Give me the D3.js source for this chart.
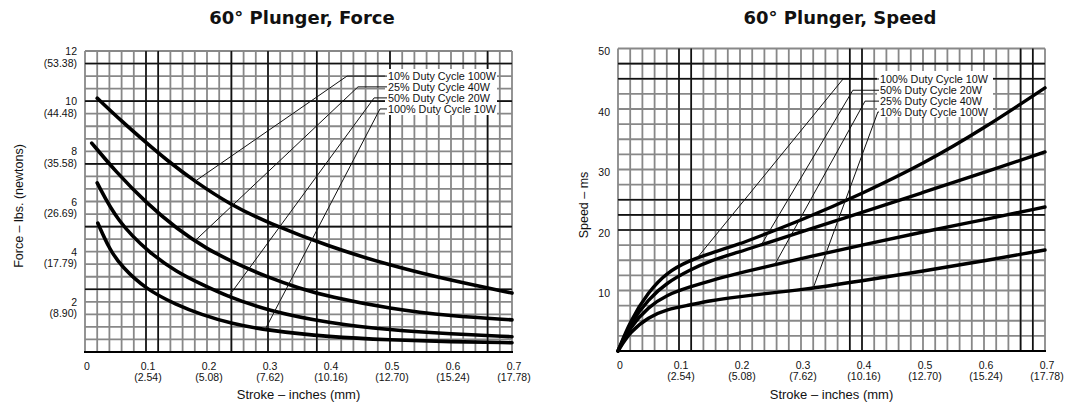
<!DOCTYPE html>
<html>
<head>
<meta charset="utf-8">
<script src="https://cdn.jsdelivr.net/npm/d3@7"></script>
<style>
  html, body { margin: 0; padding: 0; background: #fff; }
  svg { display: block; }
</style>
</head>
<body>
<svg id="chart" width="1071" height="406"></svg>
<script>
// ---- Axis ticks ----
const strokeTicks = [0, 0.1, 0.2, 0.3, 0.4, 0.5, 0.6, 0.7];
const strokeMm = ["", "(2.54)", "(5.08)", "(7.62)", "(10.16)", "(12.70)", "(15.24)", "(17.78)"];
const forceTicks = [2, 4, 6, 8, 10, 12];
const forceNewtons = ["(8.90)", "(17.79)", "(26.69)", "(35.58)", "(44.48)", "(53.38)"];
const speedTicks = [10, 20, 30, 40, 50];

// ---- Force vs stroke (lbs), [stroke in, force lbs] ----
const force100W = [[0.02,10.12],[0.06,9.2],[0.1,8.35],[0.134,7.65],[0.18,6.8],[0.24,5.85],[0.3,5.15],[0.4,4.2],[0.5,3.45],[0.6,2.85],[0.7,2.35]];
const force40W  = [[0.011,8.33],[0.05,7.2],[0.1,5.95],[0.151,4.9],[0.2,4.1],[0.25,3.5],[0.3,2.98],[0.35,2.55],[0.4,2.2],[0.5,1.72],[0.6,1.43],[0.7,1.28]];
const force20W  = [[0.02,6.74],[0.053,5.2],[0.107,3.92],[0.15,3.2],[0.189,2.72],[0.235,2.2],[0.3,1.65],[0.4,1.15],[0.5,0.88],[0.6,0.72],[0.7,0.61]];
const force10W  = [[0.021,5.14],[0.04,4.1],[0.06,3.4],[0.1,2.5],[0.15,1.88],[0.19,1.5],[0.24,1.13],[0.3,0.86],[0.4,0.6],[0.5,0.48],[0.6,0.41],[0.7,0.37]];

// ---- Speed vs stroke (ms), [stroke in, ms] ----
const speed10W  = [[0,0],[0.02,5],[0.05,9.8],[0.08,13],[0.118,15],[0.15,16.1],[0.2,17.7],[0.233,19],[0.3,21.6],[0.4,26],[0.5,30.9],[0.6,36.8],[0.7,43.5]];
const speed20W  = [[0,0],[0.02,4.6],[0.05,8.6],[0.08,11.3],[0.118,13.4],[0.15,14.9],[0.2,16.4],[0.233,17.5],[0.3,19.7],[0.4,22.9],[0.5,26.2],[0.6,29.5],[0.7,32.9]];
const speed40W  = [[0,0],[0.02,4],[0.05,7.3],[0.08,9.3],[0.118,10.6],[0.15,11.6],[0.2,12.9],[0.233,13.7],[0.3,15.3],[0.4,17.5],[0.5,19.7],[0.6,21.7],[0.7,23.8]];
const speed100W = [[0,0],[0.02,3.2],[0.05,5.6],[0.08,6.9],[0.118,7.6],[0.15,8.3],[0.2,9.0],[0.233,9.4],[0.3,10.1],[0.4,11.6],[0.5,13.2],[0.6,14.9],[0.7,16.7]];

// ---- Duty-cycle callouts: label, curve, stroke where the leader meets it, elbow [in, value] ----
const forceLabels = ["10% Duty Cycle 100W", "25% Duty Cycle 40W", "50% Duty Cycle 20W", "100% Duty Cycle 10W"];
const forceCurves = [force100W, force40W, force20W, force10W];
const forceHit = [0.18, 0.18, 0.235, 0.295];
const forceElbow = [[0.4295, 11.0], [0.4475, 10.57], [0.474, 10.13], [0.4836, 9.69]];

const speedLabels = ["100% Duty Cycle 10W", "50% Duty Cycle 20W", "25% Duty Cycle 40W", "10% Duty Cycle 100W"];
const speedCurves = [speed10W, speed20W, speed40W, speed100W];
const speedHit = [0.13, 0.235, 0.257, 0.32];
const speedElbow = [[0.369, 44.96], [0.385, 43.1], [0.405, 41.3], [0.426, 39.5]];

const svg = d3.select("#chart");
const tickFont = "'Liberation Sans', Arial, sans-serif";

function valueAt(series, xv) {
  for (let i = 1; i < series.length; i++) {
    const [x0, y0] = series[i - 1], [x1, y1] = series[i];
    if (xv <= x1) return y0 + (y1 - y0) * (xv - x0) / (x1 - x0);
  }
  return series[series.length - 1][1];
}

function panel(opt) {
  const { x, y, yMax, yStep, xMajor, yMajor, curves, curveWidth } = opt;
  const g = svg.append("g");
  const [x0, x1] = x.range();
  const [y0, y1] = y.range();

  // fine grey grid
  const gx = d3.range(0, 0.7 + 1e-9, 0.02);
  const gy = d3.range(0, yMax + 1e-9, yStep);
  g.append("g").selectAll("line").data(gx).join("line")
    .attr("x1", d => x(d)).attr("x2", d => x(d))
    .attr("y1", y0).attr("y2", y1)
    .attr("stroke", "#888").attr("stroke-width", 1.8);
  g.append("g").selectAll("line").data(gy).join("line")
    .attr("x1", x0).attr("x2", x1)
    .attr("y1", d => y(d)).attr("y2", d => y(d))
    .attr("stroke", "#888").attr("stroke-width", 1.8);

  // heavier rulings
  g.append("g").selectAll("line").data(xMajor).join("line")
    .attr("x1", d => x(d)).attr("x2", d => x(d))
    .attr("y1", y0).attr("y2", y1)
    .attr("stroke", "#111").attr("stroke-width", 1.6);
  g.append("g").selectAll("line").data(yMajor).join("line")
    .attr("x1", x0).attr("x2", x1)
    .attr("y1", d => y(d)).attr("y2", d => y(d))
    .attr("stroke", "#111").attr("stroke-width", 1.6);

  // base line
  g.append("line").attr("x1", x0 - 1).attr("x2", x1 + 1)
    .attr("y1", y0).attr("y2", y0)
    .attr("stroke", "#000").attr("stroke-width", 2);

  // curves
  const line = d3.line().x(d => x(d[0])).y(d => y(d[1])).curve(d3.curveBasis);
  g.append("g").selectAll("path").data(curves).join("path")
    .attr("d", line)
    .attr("fill", "none").attr("stroke", "#000")
    .attr("stroke-width", curveWidth).attr("stroke-linecap", "round");

  // x axis labels: inches with mm underneath
  const ax = g.append("g").attr("transform", `translate(0,${y0})`)
    .call(d3.axisBottom(x).tickValues(strokeTicks).tickSize(0).tickPadding(0).tickFormat(d => d));
  ax.select(".domain").remove();
  ax.selectAll(".tick text").each(function (d, i) {
    const t = d3.select(this).text(null)
      .attr("font-family", tickFont).attr("font-size", 10.5).attr("fill", "#111")
      .attr("dy", null).attr("y", 0);
    t.append("tspan").attr("x", 1.5).attr("y", 17.5).text(d === 0 ? "0" : d3.format(".1f")(d));
    if (strokeMm[i]) t.append("tspan").attr("x", 1.5).attr("y", 28.5).text(strokeMm[i]);
  });

  // axis title
  g.append("text").attr("x", (x0 + x1) / 2).attr("y", 399)
    .attr("text-anchor", "middle").attr("font-family", tickFont)
    .attr("font-size", 13).attr("fill", "#111").text("Stroke – inches (mm)");

  return g;
}

function callouts(g, x, y, labels, curves, hits, elbows, textX, box) {
  g.append("rect").attr("x", box[0]).attr("y", box[1]).attr("width", box[2]).attr("height", box[3])
    .attr("fill", "#fff");
  labels.forEach((lab, i) => {
    const hx = hits[i], hy = valueAt(curves[i], hx);
    const [ex, ey] = elbows[i];
    g.append("polyline")
      .attr("points", [[x(hx), y(hy)], [x(ex), y(ey)], [textX - 1, y(ey)]].map(p => p.join(",")).join(" "))
      .attr("fill", "none").attr("stroke", "#111").attr("stroke-width", 1);
    g.append("text").attr("x", textX).attr("y", y(ey) + 3.8)
      .attr("font-family", tickFont).attr("font-size", 10.8).attr("fill", "#111")
      .text(lab);
  });
}

// ================= Force panel =================
const xF = d3.scaleLinear([0, 0.7], [85, 512]);
const yF = d3.scaleLinear([0, 12], [352, 51]);
const gF = panel({
  x: xF, y: yF, yMax: 12, yStep: 0.5,
  xMajor: [0.1, 0.12, 0.24, 0.3, 0.38, 0.5, 0.66],
  yMajor: [2.5, 5, 7.5, 10, 11.5],
  curves: [force100W, force40W, force20W, force10W], curveWidth: 3.6
});
const ayF = gF.append("g").attr("transform", "translate(77,0)")
  .call(d3.axisLeft(yF).tickValues(forceTicks).tickSize(0).tickPadding(0));
ayF.select(".domain").remove();
ayF.selectAll(".tick text").each(function (d, i) {
  const t = d3.select(this).text(null).attr("dy", null).attr("x", 0)
    .attr("font-family", tickFont).attr("font-size", 10.5).attr("fill", "#111");
  t.append("tspan").attr("x", 0).attr("y", 3.5).text(d);
  t.append("tspan").attr("x", 0).attr("y", 15).text(forceNewtons[i]);
});
gF.append("text").attr("transform", "translate(23,206) rotate(-90)")
  .attr("text-anchor", "middle").attr("font-family", tickFont)
  .attr("font-size", 12.5).attr("fill", "#111").text("Force – lbs. (newtons)");
callouts(gF, xF, yF, forceLabels, forceCurves, forceHit, forceElbow, 388, [385, 69, 112, 46]);
svg.append("text").attr("x", 302).attr("y", 24).attr("text-anchor", "middle")
  .attr("font-family", "'DejaVu Sans', sans-serif").attr("font-weight", "bold")
  .attr("font-size", 18).attr("fill", "#111").text("60° Plunger, Force");

// ================= Speed panel =================
const xS = d3.scaleLinear([0, 0.7], [618, 1045]);
const yS = d3.scaleLinear([0, 50], [351, 48.5]);
const gS = panel({
  x: xS, y: yS, yMax: 50, yStep: 2.5,
  xMajor: [0.1, 0.12, 0.38, 0.4, 0.66, 0.68],
  yMajor: [20, 22.5, 25, 45, 47.5],
  curves: [speed10W, speed20W, speed40W, speed100W], curveWidth: 3.4
});
const ayS = gS.append("g").attr("transform", "translate(610,0)")
  .call(d3.axisLeft(yS).tickValues(speedTicks).tickSize(0).tickPadding(0));
ayS.select(".domain").remove();
ayS.selectAll(".tick text").attr("dy", null).attr("y", 6)
  .attr("font-family", tickFont).attr("font-size", 10.5).attr("fill", "#111");
gS.append("text").attr("transform", "translate(588,205) rotate(-90)")
  .attr("text-anchor", "middle").attr("font-family", tickFont)
  .attr("font-size", 12.5).attr("fill", "#111").text("Speed – ms");
callouts(gS, xS, yS, speedLabels, speedCurves, speedHit, speedElbow, 880, [877, 71, 116, 46]);
svg.append("text").attr("x", 840).attr("y", 24).attr("text-anchor", "middle")
  .attr("font-family", "'DejaVu Sans', sans-serif").attr("font-weight", "bold")
  .attr("font-size", 18).attr("fill", "#111").text("60° Plunger, Speed");
</script>
</body>
</html>
